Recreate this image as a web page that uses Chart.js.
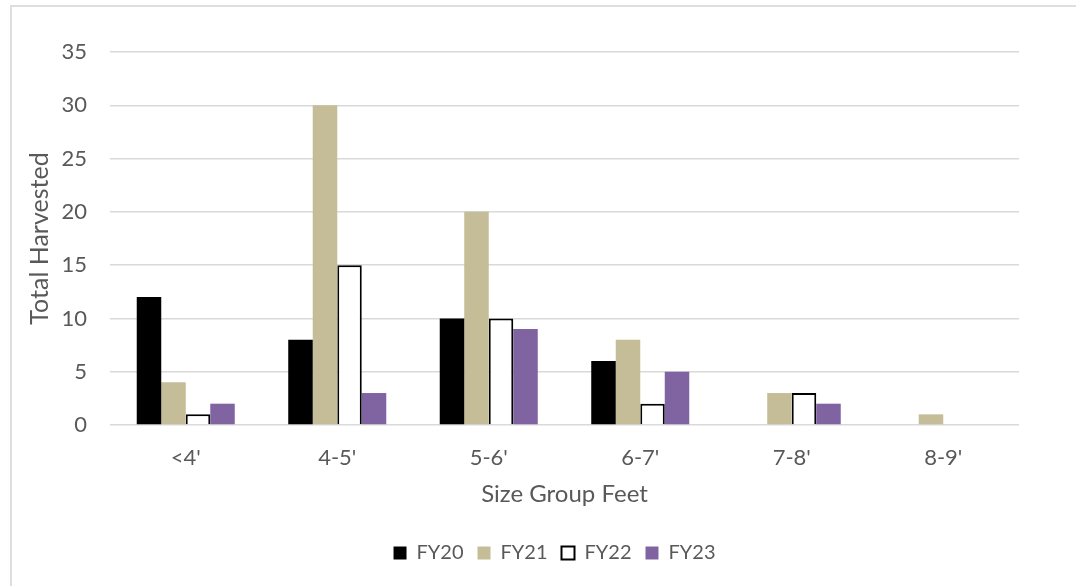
<!DOCTYPE html>
<html>
<head>
<meta charset="utf-8">
<script src="https://cdn.jsdelivr.net/npm/chart.js@4.4.0/dist/chart.umd.min.js"></script>
<style>
  html, body { margin: 0; padding: 0; background: #ffffff; }
  #wrap { position: relative; width: 1076px; height: 586px; overflow: hidden; }
  #frame { position: absolute; left: 10px; top: 5px; width: 1200px; height: 800px;
           border: 2px solid #dedede; box-sizing: border-box; pointer-events: none; }
  canvas { position: absolute; left: 0; top: 0; }
</style>
</head>
<body>
<div id="wrap">
  <div id="frame"></div>
  <canvas id="chart" width="1076" height="586"></canvas>
</div>
<script>
// Harvest counts by size group and fiscal year
const sizeGroups = ["<4'", "4-5'", "5-6'", "6-7'", "7-8'", "8-9'"];
const fy20 = [12, 8, 10, 6, 0, 0];
const fy21 = [4, 30, 20, 8, 3, 1];
const fy22 = [1, 15, 10, 2, 3, 0];
const fy23 = [2, 3, 9, 5, 2, 0];
const yTicks = [0, 5, 10, 15, 20, 25, 30, 35];

const FONT = 'Lato, "Open Sans", sans-serif';
const TEXT = '#595959';

// Nudge the legend so it sits centred under the plot area rather than the canvas
const legendShift = {
  id: 'legendShift',
  afterLayout(chart) {
    const lg = chart.legend;
    if (!lg) return;
    const dx = 45;
    lg.left += dx;
    lg.right += dx;
  }
};

new Chart(document.getElementById('chart'), {
  type: 'bar',
  data: {
    labels: sizeGroups,
    datasets: [
      { label: 'FY20', data: fy20, backgroundColor: '#000000', borderWidth: 0 },
      { label: 'FY21', data: fy21, backgroundColor: '#c4bd97', borderWidth: 0 },
      { label: 'FY22', data: fy22, backgroundColor: '#ffffff', borderColor: '#000000', borderWidth: 2 },
      { label: 'FY23', data: fy23, backgroundColor: '#8064a2', borderWidth: 0 }
    ]
  },
  plugins: [legendShift],
  options: {
    responsive: false,
    animation: false,
    devicePixelRatio: 1,
    layout: { padding: { left: 0, right: 57, top: 52, bottom: 13 } },
    datasets: { bar: { categoryPercentage: 0.647, barPercentage: 1.0 } },
    plugins: {
      tooltip: { enabled: false },
      legend: {
        position: 'bottom',
        labels: {
          font: { family: FONT, size: 20 },
          color: TEXT,
          boxWidth: 13,
          boxHeight: 13,
          padding: 14
        }
      }
    },
    scales: {
      x: {
        grid: { display: false, drawTicks: false },
        border: { display: false },
        ticks: { font: { family: FONT, size: 22 }, color: TEXT, padding: 20 },
        title: {
          display: true,
          text: 'Size Group Feet',
          font: { family: FONT, size: 24 },
          color: TEXT,
          padding: { top: 0, bottom: 20 }
        },
        afterFit: (s) => { s.height = 104; }
      },
      y: {
        min: 0,
        max: 35,
        afterBuildTicks: (s) => { s.ticks = yTicks.map(v => ({ value: v })); },
        grid: { color: '#d9d9d9', lineWidth: 1.5, drawTicks: false },
        border: { display: false },
        ticks: { font: { family: FONT, size: 22 }, color: TEXT, padding: 23 },
        title: {
          display: true,
          text: 'Total Harvested',
          font: { family: FONT, size: 25 },
          color: TEXT,
          padding: { top: 25, bottom: 0 }
        },
        afterFit: (s) => { s.width = 110; }
      }
    }
  }
});
</script>
</body>
</html>
